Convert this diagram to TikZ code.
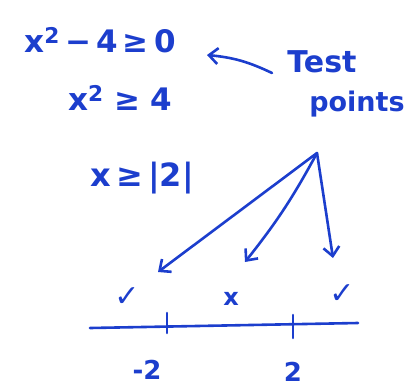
\documentclass[tikz,border=0pt]{standalone}
\usepackage{fontspec}
\setmainfont{DejaVu Sans}
\usetikzlibrary{arrows.meta}
\definecolor{ink}{RGB}{28,62,205}
\tikzset{
  ink/.style={text=ink, inner sep=0pt, font=\bfseries},
  pen/.style={draw=ink, line width=2.6pt, line cap=round, line join=round},
  arr/.style={pen, -{Straight Barb[length=9pt,width=16pt,line width=2.6pt]}},
}
\newcommand{\fsz}[1]{\fontsize{#1}{#1}\selectfont}
\begin{document}
\begin{tikzpicture}[x=1pt,y=-1pt]
\useasboundingbox (0,0) rectangle (417,388);
% equations
\node[ink] (eq1) at (100,40) {\fsz{31}x\textsuperscript{2}\,−\,4\,≥\,0};
\node[ink] (eq2) at (120,98) {\fsz{31}x\textsuperscript{2}\,\,≥\,\,4};
\node[ink] (eq3) at (142,178) {\fsz{32}x\,≥\,|2|};
% label
\node[ink] (test) at (322,62) {\fsz{30}Test};
\node[ink] (points) at (357,104) {\fsz{27}points};
\coordinate (tail) at (272,73);
\coordinate (tip) at (207,55);
\draw[arr] (tail) to[bend right=10] (tip);
% test point arrows
\coordinate (src) at (317,153);
\coordinate (t1) at (158,272);
\coordinate (t2) at (245,262);
\coordinate (t3) at (333,258);
\draw[arr] (src) -- (t1);
\draw[arr] (src) to[bend left=5] (t2);
\draw[arr] (src) -- (t3);
% marks
\node[ink] (c1) at (127,297) {\fsz{30}✓};
\node[ink] (c2) at (231,299) {\fsz{24}x};
\node[ink] (c3) at (342,294) {\fsz{30}✓};
% number line
\coordinate (nl) at (90,328);
\coordinate (nr) at (358,323);
\draw[pen] (nl) -- (nr);
\coordinate (k1t) at (167,313);
\coordinate (k1b) at (167,333);
\coordinate (k2t) at (293,315);
\coordinate (k2b) at (293,338);
\draw[pen] (k1t) -- (k1b);
\draw[pen] (k2t) -- (k2b);
\node[ink] (lm2) at (147,370) {\fsz{26}-2};
\node[ink] (lp2) at (293,372) {\fsz{26}2};
\end{tikzpicture}
\end{document}
